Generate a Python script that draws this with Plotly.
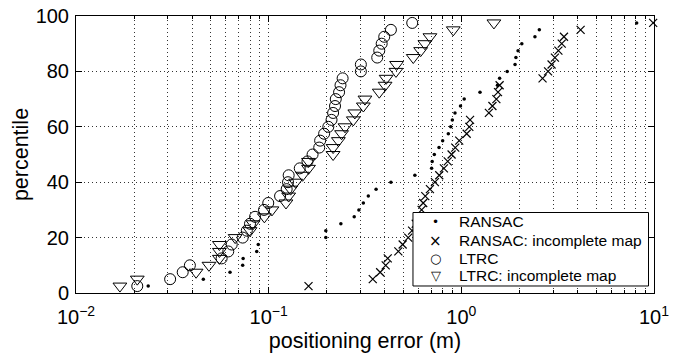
import plotly.graph_objects as go

# percentile levels (y)
pct = [2.5, 5, 7.5, 10, 12.5, 15, 17.5, 20, 22.5, 25, 27.5, 30, 32.5, 35, 37.5,
       40, 42.5, 45, 47.5, 50, 52.5, 55, 57.5, 60, 62.5, 65, 67.5, 70, 72.5, 75,
       77.5, 80, 82.5, 85, 87.5, 90, 92.5, 95, 97.5]

ransac = [0.0237, 0.0458, 0.063, 0.0733, 0.0737, 0.0867, 0.0883, 0.198, 0.198,
          0.237, 0.278, 0.294, 0.31, 0.329, 0.361, 0.431, 0.574, 0.701, 0.706,
          0.724, 0.766, 0.80, 0.856, 0.881, 0.898, 0.927, 0.99, 1.035, 1.25,
          1.54, 1.58, 1.73, 1.90, 1.92, 1.97, 2.06, 2.41, 2.54, 8.13]

ransac_inc = [0.161, 0.347, 0.379, 0.405, 0.415, 0.471, 0.496, 0.53, 0.555,
              0.58, 0.60, 0.622, 0.634, 0.65, 0.687, 0.729, 0.768, 0.812, 0.85,
              0.89, 0.93, 0.975, 1.066, 1.10, 1.11, 1.39, 1.45, 1.52, 1.55, 1.58,
              2.64, 2.82, 2.94, 3.06, 3.19, 3.32, 3.41, 4.16, 9.9]

ltrc = [0.0208, 0.0308, 0.0358, 0.039, 0.057, 0.0617, 0.0643, 0.0733, 0.077,
        0.080, 0.085, 0.0946, 0.0995, 0.1146, 0.124, 0.126, 0.127, 0.145, 0.159,
        0.169, 0.183, 0.185, 0.194, 0.204, 0.212, 0.216, 0.221, 0.223, 0.232,
        0.236, 0.242, 0.301, 0.301, 0.366, 0.375, 0.386, 0.398, 0.431, 0.556]

ltrc_inc = [0.0169, 0.0208, 0.042, 0.049, 0.0555, 0.0555, 0.0555, 0.067, 0.080,
            0.083, 0.095, 0.104, 0.123, 0.127, 0.13, 0.138, 0.15, 0.161, 0.161,
            0.216, 0.216, 0.23, 0.239, 0.249, 0.275, 0.28, 0.31, 0.316, 0.375,
            0.402, 0.407, 0.458, 0.461, 0.563, 0.615, 0.647, 0.687, 0.908, 1.476]

series_names = ["RANSAC", "RANSAC: incomplete map", "LTRC", "LTRC: incomplete map"]
legend_symbols = ["•", "×", "○", "▽"]

x_tickvals = [0.01, 0.1, 1, 10]
x_ticktext = ["10<sup>−2</sup>", "10<sup>−1</sup>", "10<sup>0</sup>", "10<sup>1</sup>"]
y_tickvals = [0, 20, 40, 60, 80, 100]

minor_vals = [k * d for d in (0.01, 0.1, 1) for k in range(2, 10)]

FONT = "Liberation Sans, Arial, Helvetica, sans-serif"

fig = go.Figure()
fig.add_trace(go.Scatter(x=ransac, y=pct, mode="markers", name=series_names[0],
                         marker=dict(symbol="circle", size=3.5, color="black"),
                         cliponaxis=False))
fig.add_trace(go.Scatter(x=ransac_inc, y=pct, mode="markers", name=series_names[1],
                         marker=dict(symbol="x-thin-open", size=8, color="black",
                                     line=dict(color="black", width=1.2)),
                         cliponaxis=False))
fig.add_trace(go.Scatter(x=ltrc, y=pct, mode="markers", name=series_names[2],
                         marker=dict(symbol="circle-open", size=11, color="black",
                                     line=dict(color="black", width=1)),
                         cliponaxis=False))
fig.add_trace(go.Scatter(x=ltrc_inc, y=pct, mode="markers", name=series_names[3],
                         marker=dict(symbol="triangle-down-open", size=12, color="black",
                                     line=dict(color="black", width=1)),
                         cliponaxis=False))

# custom compact legend (box + symbol + label), in paper coordinates
leg_x0, leg_x1, leg_y0, leg_y1 = 0.583, 0.9905, 0.0253, 0.2906
row_y = [0.2574, 0.1888, 0.1253, 0.0614]
sym_x, txt_x = 0.6228, 0.659
fig.add_shape(type="rect", xref="paper", yref="paper",
              x0=leg_x0, x1=leg_x1, y0=leg_y0, y1=leg_y1,
              line=dict(color="black", width=1), fillcolor="white", layer="above")
sym_sizes = [12, 15, 13, 13]
for name, sym, yy, ss in zip(series_names, legend_symbols, row_y, sym_sizes):
    fig.add_annotation(xref="paper", yref="paper", x=sym_x, y=yy, text=sym,
                       showarrow=False, xanchor="center", yanchor="middle",
                       font=dict(size=ss, family="DejaVu Sans, sans-serif", color="black"))
    fig.add_annotation(xref="paper", yref="paper", x=txt_x, y=yy, text=name,
                       showarrow=False, xanchor="left", yanchor="middle",
                       font=dict(size=15.5, family=FONT, color="black"))

grid_dash = "1px,3px"
fig.update_layout(
    width=685, height=353,
    margin=dict(l=76, r=31, t=16, b=60),
    paper_bgcolor="white", plot_bgcolor="white",
    font=dict(family=FONT, size=18, color="black"),
    showlegend=False,
    xaxis=dict(type="log", range=[-2, 1], tickvals=x_tickvals, ticktext=x_ticktext,
               showline=True, linecolor="black", linewidth=1, mirror="all",
               ticks="inside", ticklen=6, tickcolor="black",
               showgrid=True, gridcolor="#333", gridwidth=1, griddash=grid_dash,
               minor=dict(tickvals=minor_vals, ticks="inside", ticklen=3,
                          tickcolor="black", showgrid=True, gridcolor="#333",
                          gridwidth=1, griddash=grid_dash),
               zeroline=False, ticklabelstandoff=6, automargin=False,
               title=dict(text="positioning error (m)", standoff=8,
                          font=dict(size=21.5, family=FONT)),
               tickfont=dict(size=20, family=FONT)),
    yaxis=dict(range=[0, 100], tickvals=y_tickvals,
               showline=True, linecolor="black", linewidth=1, mirror="all",
               ticks="inside", ticklen=6, tickcolor="black",
               showgrid=True, gridcolor="#333", gridwidth=1, griddash=grid_dash,
               zeroline=False, ticklabelstandoff=2, automargin=False,
               title=dict(text="percentile", standoff=1,
                          font=dict(size=21.5, family=FONT)),
               tickfont=dict(size=20, family=FONT)),
)

fig.write_html("out.html")
